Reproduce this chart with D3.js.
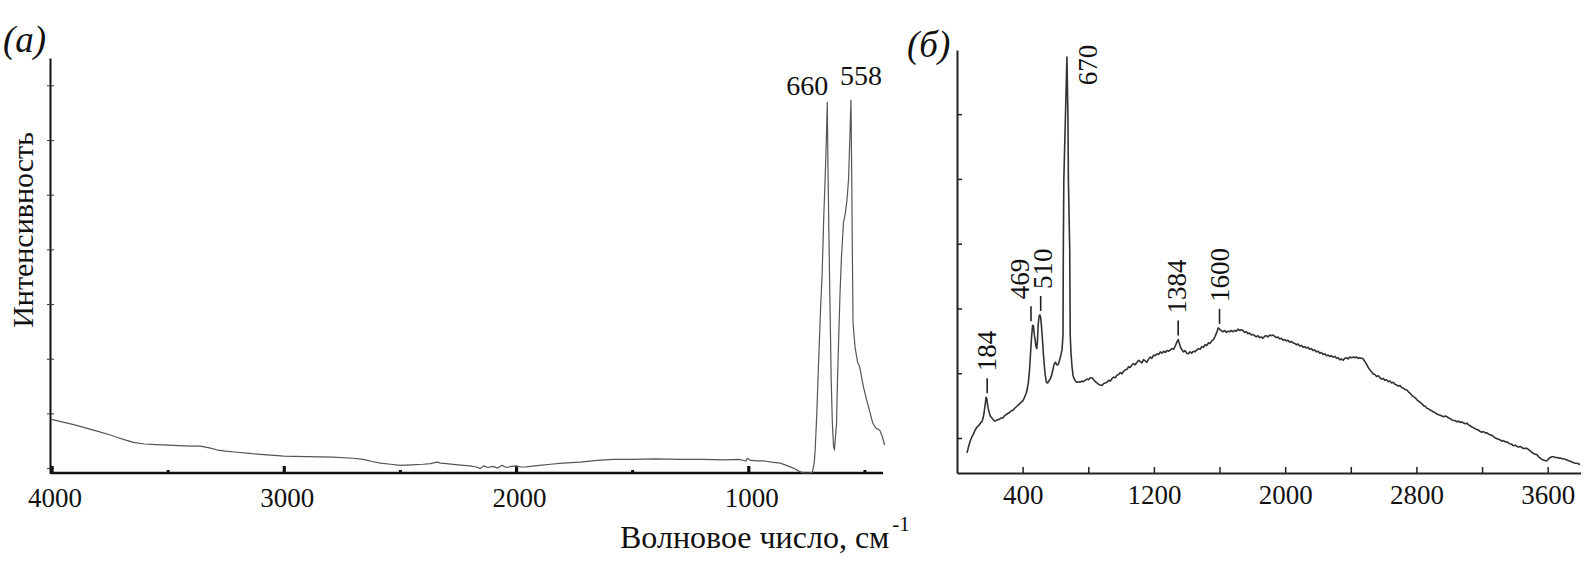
<!DOCTYPE html>
<html><head><meta charset="utf-8">
<script src="https://cdn.jsdelivr.net/npm/d3@7"></script>
<style>
html,body{margin:0;padding:0;background:#fff;}
svg text{font-family:"Liberation Serif","Times New Roman",serif !important;fill:#111;}
</style></head>
<body>
<svg id="chart" width="1594" height="573"></svg>
<script>
// ---------- DATA ----------
// Panel (a): IR spectrum
const wavenumberA = [4000,3950,3900,3850,3800,3750,3716,3680,3647,3600,3550,3500,3450,3400,3359,3320,3285,3250,3200,3150,3100,3070,3000,2900,2786,2700,2657,2620,2584,2540,2498,2450,2400,2368,2350,2338,2325,2300,2250,2200,2170,2153,2140,2120,2100,2080,2060,2040,2020,2000,1980,1960,1938,1900,1850,1800,1723,1650,1581,1500,1400,1292,1200,1100,1040,1010,1004,990,960,930,900,862,830,806,780,763,740,724,716,712,705,699,688,682,675,669,664,660,657,653,648,643,638,633,629,624,620,616,611,605,599,590,583,575,568,563,558,555,552,549,540,530,520,505,490,475,464,450,434,425,418,413];
const intensityA  = [0.89,0.84,0.79,0.73,0.67,0.61,0.56,0.51,0.47,0.44,0.43,0.42,0.41,0.40,0.40,0.37,0.33,0.31,0.29,0.27,0.25,0.24,0.22,0.21,0.20,0.18,0.16,0.12,0.09,0.07,0.05,0.06,0.07,0.08,0.10,0.11,0.09,0.08,0.06,0.04,0.02,-0.01,0.04,0.01,0.03,0.00,0.05,0.01,0.03,0.04,0.02,0.02,0.03,0.05,0.07,0.09,0.11,0.14,0.16,0.16,0.17,0.16,0.16,0.15,0.16,0.13,0.18,0.14,0.13,0.13,0.11,0.09,0.04,0.00,-0.06,-0.09,-0.09,-0.08,0.10,0.33,1.00,1.73,3.00,3.55,4.60,5.30,6.00,6.69,5.50,4.30,2.93,1.60,0.82,0.40,0.33,0.60,0.82,1.60,2.33,3.20,3.84,4.50,4.64,4.90,5.30,6.00,6.73,5.50,4.00,2.64,2.20,1.95,1.84,1.50,1.24,1.00,0.82,0.73,0.69,0.60,0.50,0.42];
const xTicksMajorA = [4000,3000,2000,1000];
const xTicksMinorA = [3500,2500,1500,500];
const yTicksA = [0,1,2,3,4,5,6,7];
const peakTextA = ["660","558"];
const peakPosA = [660,558];
const peakLevelA = [6.69,6.73];

// Panel (б): Raman spectrum
const wavenumberB = [61,70,80,91,100,110,122,135,145,152,160,165,172,177,182,186,190,198,205,213,222,232,245,258,270,280,292,305,318,330,341,352,365,378,390,400,410,420,427,435,442,448,455,461,466,471,476,481,486,490,495,500,505,510,515,520,526,532,538,545,552,560,568,576,584,592,600,608,616,625,633,640,646,648,651,661,670,676,679,687,690,695,701,707,713,722,731,740,750,760,770,780,792,802,812,823,833,843,853,863,873,884,894,904,914,925,935,945,955,965,975,985,995,1005,1015,1025,1036,1046,1056,1066,1076,1086,1097,1107,1117,1127,1137,1147,1158,1168,1178,1188,1198,1208,1219,1229,1239,1249,1260,1270,1280,1290,1300,1310,1320,1330,1340,1348,1356,1364,1372,1380,1390,1400,1410,1420,1430,1440,1450,1462,1472,1482,1492,1502,1512,1523,1533,1543,1553,1563,1573,1583,1592,1600,1610,1621,1631,1641,1651,1661,1671,1682,1692,1702,1712,1722,1733,1743,1753,1763,1773,1783,1794,1804,1814,1824,1834,1845,1855,1865,1875,1885,1895,1906,1916,1926,1936,1946,1956,1967,1977,1987,1997,2007,2017,2028,2038,2048,2058,2068,2078,2089,2099,2109,2119,2129,2140,2150,2160,2170,2180,2191,2201,2211,2221,2231,2242,2252,2262,2272,2282,2293,2303,2313,2323,2333,2343,2354,2364,2374,2384,2394,2404,2415,2425,2435,2445,2455,2466,2476,2486,2496,2506,2517,2527,2537,2547,2557,2568,2578,2588,2598,2608,2618,2629,2639,2649,2659,2669,2679,2690,2700,2710,2720,2730,2742,2752,2762,2772,2782,2793,2803,2813,2823,2833,2843,2854,2864,2874,2884,2894,2904,2915,2925,2935,2945,2955,2965,2976,2986,2996,3006,3016,3026,3037,3047,3057,3067,3077,3087,3098,3108,3118,3128,3138,3148,3159,3169,3179,3189,3199,3209,3220,3230,3240,3250,3260,3270,3281,3291,3301,3311,3321,3331,3342,3352,3362,3372,3382,3392,3403,3413,3423,3433,3443,3453,3464,3474,3484,3494,3504,3514,3525,3535,3545,3555,3565,3575,3586,3596,3606,3616,3626,3636,3647,3657,3667,3677,3687,3697,3708,3718,3728,3738,3748,3758,3769,3779,3789,3797];
const intensityB  = [0.77,0.86,0.95,1.02,1.06,1.12,1.17,1.20,1.24,1.25,1.32,1.39,1.52,1.63,1.60,1.52,1.46,1.38,1.33,1.31,1.28,1.26,1.28,1.29,1.31,1.31,1.35,1.37,1.39,1.42,1.43,1.46,1.49,1.52,1.55,1.57,1.62,1.68,1.74,1.86,2.05,2.30,2.58,2.74,2.73,2.60,2.52,2.42,2.38,2.48,2.75,2.88,2.90,2.86,2.72,2.55,2.32,2.12,1.97,1.86,1.85,1.88,1.91,1.96,2.05,2.14,2.17,2.13,2.13,2.20,2.28,2.36,2.59,3.90,4.98,5.98,6.88,5.98,4.98,3.90,2.59,2.30,2.10,1.97,1.92,1.88,1.86,1.87,1.86,1.88,1.87,1.89,1.91,1.90,1.93,1.93,1.90,1.87,1.85,1.83,1.82,1.81,1.84,1.85,1.86,1.89,1.88,1.92,1.94,1.93,1.97,1.98,2.01,1.99,2.03,2.05,2.06,2.10,2.09,2.13,2.15,2.13,2.17,2.20,2.18,2.16,2.21,2.19,2.17,2.22,2.25,2.23,2.28,2.27,2.30,2.29,2.33,2.31,2.34,2.32,2.35,2.34,2.36,2.38,2.37,2.42,2.48,2.52,2.45,2.39,2.36,2.33,2.35,2.31,2.30,2.33,2.31,2.34,2.33,2.36,2.38,2.37,2.41,2.40,2.44,2.43,2.47,2.46,2.50,2.52,2.57,2.63,2.70,2.68,2.66,2.64,2.66,2.63,2.65,2.64,2.66,2.64,2.66,2.65,2.68,2.66,2.67,2.66,2.63,2.64,2.61,2.62,2.59,2.60,2.58,2.56,2.58,2.55,2.56,2.54,2.57,2.58,2.56,2.59,2.58,2.59,2.57,2.55,2.56,2.53,2.54,2.51,2.52,2.50,2.51,2.48,2.49,2.47,2.46,2.44,2.45,2.42,2.43,2.40,2.41,2.39,2.40,2.37,2.38,2.35,2.36,2.33,2.34,2.31,2.32,2.29,2.30,2.27,2.28,2.26,2.27,2.25,2.26,2.23,2.24,2.21,2.22,2.20,2.23,2.24,2.22,2.25,2.24,2.25,2.24,2.25,2.23,2.24,2.23,2.22,2.18,2.14,2.09,2.05,2.02,1.99,1.98,1.95,1.96,1.93,1.91,1.92,1.89,1.90,1.87,1.88,1.85,1.86,1.83,1.82,1.80,1.81,1.78,1.77,1.75,1.74,1.71,1.69,1.66,1.64,1.62,1.59,1.57,1.55,1.53,1.50,1.49,1.46,1.45,1.43,1.42,1.40,1.39,1.37,1.36,1.35,1.34,1.33,1.34,1.33,1.31,1.30,1.28,1.27,1.27,1.25,1.26,1.24,1.25,1.23,1.22,1.23,1.20,1.19,1.17,1.16,1.14,1.13,1.12,1.10,1.09,1.10,1.08,1.08,1.06,1.05,1.04,1.02,1.00,0.99,0.98,0.97,0.95,0.96,0.94,0.94,0.92,0.91,0.90,0.88,0.89,0.87,0.86,0.87,0.85,0.84,0.84,0.84,0.82,0.80,0.78,0.76,0.75,0.74,0.71,0.69,0.67,0.66,0.65,0.65,0.68,0.70,0.71,0.71,0.70,0.70,0.69,0.69,0.68,0.68,0.67,0.66,0.65,0.64,0.63,0.62,0.61,0.61,0.60,0.59];
const xTicksB = [400,800,1200,1600,2000,2400,2800,3200,3600];
const xTickLabelsB = ["400","","1200","","2000","","2800","","3600"];
const yTicksB = [1,2,3,4,5,6];
const peakTextB = ["184","469","510","670","1384","1600"];
const peakPosB = [184,451,510,670,1348,1600];
const peakLevelB = [1.63,2.74,2.90,6.88,2.52,2.70];

const xTitle = "Волновое число, см";
const xTitleSup = "-1";
const yTitle = "Интенсивность";
const panelLabels = ["(a)","(б)"];

// ---------- DRAW ----------
const SERIF = '"Liberation Serif","Times New Roman",serif';
const svg = d3.select("#chart");
const ink = "#111";

// Panel (a)
const xA = d3.scaleLinear().domain([4000, 420]).range([51.5, 883]);
const yA = d3.scaleLinear().domain([-0.09, 7.5]).range([473, 58]);
const gA = svg.append("g");

const yAxA = gA.append("g").attr("transform","translate(50,0)")
  .call(d3.axisLeft(yA).tickValues(yTicksA).tickSizeInner(3).tickSizeOuter(0).tickFormat(""));
yAxA.select(".domain").attr("stroke", ink).attr("stroke-width", 2);
yAxA.selectAll(".tick line").attr("x2",-3).attr("x1",4).attr("stroke","#333").attr("stroke-width",1);

const xAxA = gA.append("g").attr("transform","translate(0,473)")
  .call(d3.axisBottom(xA).tickValues(xTicksMajorA).tickSizeInner(-7).tickSizeOuter(0).tickFormat(d3.format("d")));
xAxA.attr("font-family", SERIF);
xAxA.select(".domain").attr("stroke", ink).attr("stroke-width", 2.4).attr("d", `M50,0H${xA.range()[1]}`);
xAxA.selectAll(".tick line").attr("stroke", ink).attr("stroke-width", 3.2);
xAxA.selectAll(".tick text").attr("y", 34).attr("dy", 0).attr("dx", 3)
  .style("font-family", SERIF).style("font-size","27px").attr("fill", ink);
const xAxAm = gA.append("g").attr("transform","translate(0,473)")
  .call(d3.axisBottom(xA).tickValues(xTicksMinorA).tickSizeInner(-3).tickSizeOuter(0).tickFormat(""));
xAxAm.select(".domain").remove();
xAxAm.selectAll(".tick line").attr("stroke", ink).attr("stroke-width", 3);

const lineA = d3.line().x((d,i)=>xA(wavenumberA[i])).y((d,i)=>yA(intensityA[i])).curve(d3.curveLinear);
gA.append("path").attr("d", lineA(intensityA)).attr("fill","none")
  .attr("stroke","#555").attr("stroke-width",1.2).attr("stroke-linejoin","round");

const peakDxA = [-20, 10], peakDyA = [-7, -15];
gA.selectAll("text.peakA").data(peakTextA).join("text").attr("class","peakA")
  .attr("x",(d,i)=>xA(peakPosA[i]) + peakDxA[i])
  .attr("y",(d,i)=>yA(peakLevelA[i]) + peakDyA[i])
  .attr("text-anchor","middle").style("font-family", SERIF).style("font-size","28px").text(d=>d);

svg.append("text").attr("transform","translate(33,230) rotate(-90)")
  .attr("text-anchor","middle").style("font-family", SERIF).style("font-size","30px").text(yTitle);
const xt = svg.append("text").attr("x",620).attr("y",548).style("font-family", SERIF).style("font-size","32px");
xt.append("tspan").text(xTitle);
xt.append("tspan").attr("dy",-17).attr("dx",3).style("font-size","21px").text(xTitleSup);

svg.append("text").attr("x",3).attr("y",52).style("font-family", SERIF).style("font-size","37px").style("font-style","italic").text(panelLabels[0]);
svg.append("text").attr("x",907).attr("y",57).style("font-family", SERIF).style("font-size","37px").style("font-style","italic").text(panelLabels[1]);

// Panel (б)
const xB = d3.scaleLinear().domain([0, 3800]).range([957, 1580.5]);
const yB = d3.scaleLinear().domain([0.46, 6.99]).range([473, 50]);
const gB = svg.append("g");

const yAxB = gB.append("g").attr("transform","translate(957,0)")
  .call(d3.axisLeft(yB).tickValues(yTicksB).tickSizeInner(-5).tickSizeOuter(0).tickFormat(""));
yAxB.select(".domain").attr("stroke","#222").attr("stroke-width",2);
yAxB.selectAll(".tick line").attr("stroke","#222").attr("stroke-width",1.5);

const xAxB = gB.append("g").attr("transform","translate(0,473)")
  .call(d3.axisBottom(xB).tickValues(xTicksB).tickSizeInner(-6).tickSizeOuter(0).tickFormat((d,i)=>xTickLabelsB[i]));
xAxB.attr("font-family", SERIF);
xAxB.select(".domain").attr("stroke","#222").attr("stroke-width",2);
xAxB.selectAll(".tick line").attr("stroke","#222").attr("stroke-width",1.5);
xAxB.selectAll(".tick text").attr("y",31).attr("dy",0).style("font-family", SERIF).style("font-size","27px").attr("fill",ink);

const lineB = d3.line().x((d,i)=>xB(wavenumberB[i])).y((d,i)=>yB(intensityB[i]));
gB.append("path").attr("d", lineB(intensityB)).attr("fill","none")
  .attr("stroke","#333").attr("stroke-width",1.6).attr("stroke-linejoin","round");

const labelDxB = [0,-11,2,21,-1,0];
const hasTickB = [true,true,true,false,true,true];
peakTextB.forEach((t,i)=>{
  const px = xB(peakPosB[i]), py = yB(peakLevelB[i]);
  let start;
  if (hasTickB[i]) {
    gB.append("line").attr("x1",px).attr("x2",px).attr("y1",py-4).attr("y2",py-19)
      .attr("stroke","#222").attr("stroke-width",1.6);
    start = py - 26;
  } else {
    start = py + 28;
  }
  gB.append("text").attr("transform",`translate(${px+labelDxB[i]},${start}) rotate(-90)`)
    .attr("dy","0.34em").style("font-family", SERIF).style("font-size","27px").text(t);
});
</script>
</body></html>
